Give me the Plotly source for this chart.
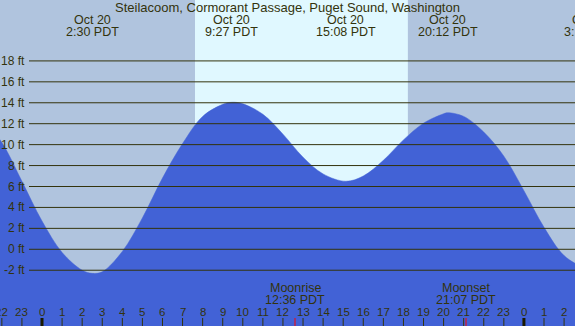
import plotly.graph_objects as go

# ---- data (hours since Oct 20 00:00 PDT, feet) ----
tide_hours = [-3, -2, -1, 0, 1, 2, 2.5, 3, 4, 5, 6, 7, 8, 9, 9.45, 10, 11, 12, 13, 14,
              15.13, 16, 17, 18, 19, 20, 20.2, 21, 22, 23, 24, 25, 26, 27, 27.3]
tide_feet = [12.6, 10.2, 6.5, 2.7, -0.3, -2.0, -2.3, -2.15, -0.2, 3.0, 6.8, 10.1, 12.7, 13.85, 14.05,
             13.9, 12.9, 11.0, 8.8, 7.2, 6.5, 7.0, 8.5, 10.45, 12.05, 12.95, 13.05, 12.7, 11.2,
             8.9, 5.6, 2.1, -0.6, -1.75, -1.8]

extreme_hours = [2.5, 9.45, 15.133, 20.2, 27.3]
extreme_dates = ["Oct 20", "Oct 20", "Oct 20", "Oct 20", "Oct 21"]
extreme_times = ["2:30 PDT", "9:27 PDT", "15:08 PDT", "20:12 PDT", "3:18 PDT"]

sun_hours = [7.62, 18.22]          # sunrise, sunset
moon_hours = [12.6, 21.117]        # moonrise, moonset
moon_names = ["Moonrise", "Moonset"]
moon_times = ["12:36 PDT", "21:07 PDT"]

hour_ticks = list(range(-2, 27))
hour_labels = [str(h % 24) for h in hour_ticks]
feet_ticks = [18, 16, 14, 12, 10, 8, 6, 4, 2, 0, -2]
feet_labels = [f"{v} ft" for v in feet_ticks]

title = "Steilacoom, Cormorant Passage, Puget Sound, Washington"

# ---- styling ----
W, H = 575, 326
X_RANGE = [-2.092, 26.544]
Y_RANGE = [-7.33, 23.82]
NIGHT = "#B0C4DE"
DAY = "#E0F8FF"
WATER = "#4262D6"
INK = "#33330c"
FONT = "Liberation Sans, Arial, sans-serif"

def py(px):  # paper y from pixel row
    return 1 - px / H

def px_of_hour(h):  # paper x of an hour value on the x axis
    return (h - X_RANGE[0]) / (X_RANGE[1] - X_RANGE[0])

fig = go.Figure()
base = [Y_RANGE[0] - 5] * len(tide_hours)
fig.add_trace(go.Scatter(x=tide_hours, y=base, mode="lines", line=dict(width=0),
                         hoverinfo="skip", showlegend=False))
fig.add_trace(go.Scatter(x=tide_hours, y=tide_feet, mode="lines", fill="tonexty",
                         fillcolor=WATER, line=dict(color=WATER, width=0.5, shape="spline", smoothing=1.0),
                         showlegend=False))

shapes = []
# daylight band
shapes.append(dict(type="rect", xref="x", yref="paper", x0=sun_hours[0], x1=sun_hours[1],
                   y0=0, y1=1, fillcolor=DAY, line=dict(width=0), layer="below"))
# horizontal gridlines
for v in feet_ticks:
    shapes.append(dict(type="line", xref="paper", yref="y", x0=29 / W, x1=1, y0=v, y1=v,
                       line=dict(color=INK, width=1), layer="above"))
# hour tick marks
for h in hour_ticks:
    midnight = (h % 24 == 0)
    shapes.append(dict(type="line", xref="x", yref="paper", x0=h, x1=h, y0=0, y1=py(318),
                       line=dict(color="#1a1a00" if midnight else INK, width=3 if midnight else 1),
                       layer="above"))
for h in moon_hours:
    shapes.append(dict(type="line", xref="x", yref="paper", x0=h, x1=h, y0=0, y1=py(318),
                       line=dict(color="#ff0000", width=1), layer="above"))

ann = []
ann.append(dict(text=title, xref="paper", yref="paper", x=0.5, y=py(7.5), showarrow=False,
                xanchor="center", yanchor="middle", font=dict(size=13, color=INK, family=FONT)))
for h, d, t in zip(extreme_hours, extreme_dates, extreme_times):
    ann.append(dict(text=d, xref="paper", yref="paper", x=px_of_hour(h), y=py(19.7), showarrow=False,
                    xanchor="center", yanchor="middle", font=dict(size=12.5, color=INK, family=FONT)))
    ann.append(dict(text=t, xref="paper", yref="paper", x=px_of_hour(h), y=py(31.7), showarrow=False,
                    xanchor="center", yanchor="middle", font=dict(size=12.5, color=INK, family=FONT)))
for v, lab in zip(feet_ticks, feet_labels):
    ann.append(dict(text=lab, xref="paper", yref="y", x=26.5 / W, y=v, showarrow=False,
                    xanchor="right", yanchor="middle", font=dict(size=12, color=INK, family=FONT)))
for h, n, t in zip(moon_hours, moon_names, moon_times):
    ann.append(dict(text=n, xref="x", yref="paper", x=h, y=py(287.5), showarrow=False,
                    xanchor="center", yanchor="middle", font=dict(size=12.5, color=INK, family=FONT)))
    ann.append(dict(text=t, xref="x", yref="paper", x=h, y=py(299.5), showarrow=False,
                    xanchor="center", yanchor="middle", font=dict(size=12.5, color=INK, family=FONT)))
for h, lab in zip(hour_ticks, hour_labels):
    ann.append(dict(text=lab, xref="paper", yref="paper", x=px_of_hour(h), y=py(311.5), showarrow=False,
                    xanchor="center", yanchor="middle", font=dict(size=11.5, color=INK, family=FONT)))

fig.update_layout(
    width=W, height=H, margin=dict(l=0, r=0, t=0, b=0),
    paper_bgcolor=NIGHT, plot_bgcolor=NIGHT,
    xaxis=dict(range=X_RANGE, visible=False, fixedrange=True),
    yaxis=dict(range=Y_RANGE, visible=False, fixedrange=True),
    shapes=shapes, annotations=ann, showlegend=False,
)
fig.write_html("out.html", config={"displayModeBar": False},
               post_script="document.body.style.margin='0';document.body.style.overflow='hidden';")
